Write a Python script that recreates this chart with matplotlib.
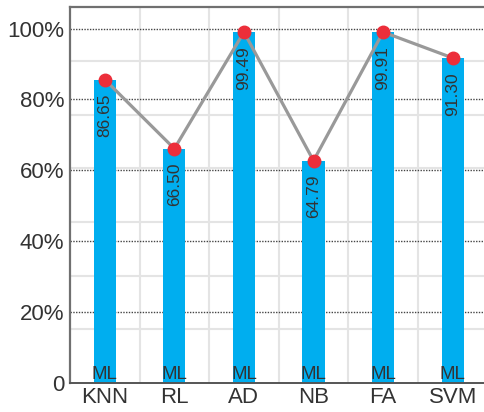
#Importando as bibliotecas
import numpy as np
import matplotlib
matplotlib.use("Agg")
import matplotlib.pyplot as plt

plt.rcParams["font.family"] = ["Liberation Sans", "DejaVu Sans"]

#Dados do gráfico (acurácia de cada modelo)
modelos = ["KNN", "RL", "AD", "NB", "FA", "SVM"]
altura_barras = [85.6, 66.1, 99.0, 62.7, 99.0, 91.7]
rotulos = ["86.65", "66.50", "99.49", "64.79", "99.91", "91.30"]
marca = "ML"
ticks_y = [0, 20, 40, 60, 80, 100]
labels_y = ["0", "20%", "40%", "60%", "80%", "100%"]

#Cores
cor_barra = "#00AEEF"
cor_linha = "#999999"
cor_ponto = "#EC2E3A"
cor_texto = "#333333"

fig = plt.figure(figsize=(4.84, 4.12), dpi=100)
ax = fig.add_axes([0.1446, 0.0704, 0.8554, 0.912])

x = np.arange(len(modelos))
topo = 106

#Grade clara de fundo
for y in np.linspace(0, topo, 8)[1:-1]:
    ax.axhline(y, color="#e4e4e4", lw=1.5, zorder=0)
for xv in x[:-1] + 0.5:
    ax.axvline(xv, color="#e4e4e4", lw=1.5, zorder=0)

#Linhas pontilhadas nos ticks
for y in ticks_y[1:]:
    ax.axhline(y, color="#444444", lw=1, ls=(0, (1, 1)), zorder=1)

#Barras
ax.bar(x, altura_barras, width=0.32, color=cor_barra, zorder=2)

#Linha com os pontos
ax.plot(x, altura_barras, color=cor_linha, lw=2.3, zorder=3)
ax.plot(x, altura_barras, "o", color=cor_ponto, ms=9, zorder=4)

#Rótulos das barras
for xi, v, r in zip(x, altura_barras, rotulos):
    ax.annotate(r, (xi, v), xytext=(0, -14), textcoords="offset pixels",
                rotation=90, ha="center", va="top", fontsize=12.5,
                color=cor_texto, zorder=5)
    ax.text(xi, 0, marca, ha="center", va="bottom", fontsize=13.5,
            color=cor_texto, zorder=5)

ax.set_xlim(-0.5, 5.45)
ax.set_ylim(0, topo)
ax.set_xticks(x)
ax.set_xticklabels(modelos)
ax.set_yticks(ticks_y)
ax.set_yticklabels(labels_y)
ax.tick_params(axis="both", length=0, labelsize=16, colors=cor_texto)
ax.tick_params(axis="y", pad=4)
ax.tick_params(axis="x", pad=3)

ax.spines["right"].set_visible(False)
ax.spines["top"].set_color("#707070")
ax.spines["top"].set_linewidth(1.6)
ax.spines["left"].set_color("#707070")
ax.spines["left"].set_linewidth(1.6)
ax.spines["bottom"].set_color("#555555")
ax.spines["bottom"].set_linewidth(1.4)

fig.savefig("out.png", dpi=100)
